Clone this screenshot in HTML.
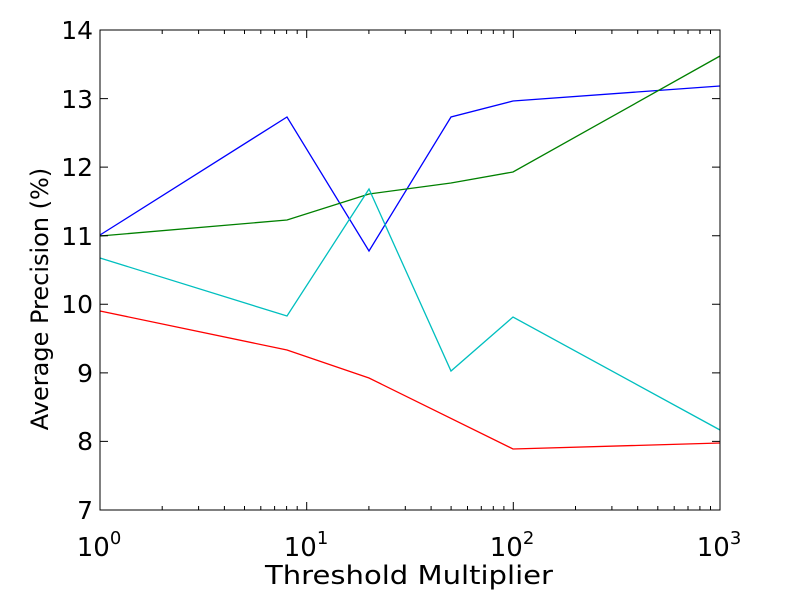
<!DOCTYPE html>
<html><head><meta charset="utf-8"><style>html,body{margin:0;padding:0;background:#fff}</style></head>
<body>
<svg width="800" height="600" xmlns="http://www.w3.org/2000/svg" font-family="DejaVu Sans, Liberation Sans, sans-serif">
<rect width="800" height="600" fill="#fff"/>
<g fill="none" stroke-width="1.3">
<polyline stroke="#0000ff" points="100,235 287,117 369,251 451,117 513,101 720,86"/>
<polyline stroke="#008000" points="100,236 287,220 369,194 451,183 513,172 720,56"/>
<polyline stroke="#00bfbf" points="100,258 287,316 369,189 451,371 513,317 720,430"/>
<polyline stroke="#ff0000" points="100,311 287,350 369,378 513,449 720,443"/>
</g>
<rect x="100" y="30" width="620" height="480" fill="none" stroke="#000" stroke-width="1"/>
<g font-size="25" fill="#000" text-anchor="end">
<text x="93" y="519">7</text><text x="93" y="450">8</text><text x="93" y="382">9</text>
<text x="93" y="313">10</text><text x="93" y="245">11</text><text x="93" y="176">12</text>
<text x="93" y="108">13</text><text x="93" y="39">14</text>
</g>
<g font-size="26" fill="#000" text-anchor="middle">
<text x="99" y="556">10<tspan font-size="18" dy="-12">0</tspan></text>
<text x="306" y="556">10<tspan font-size="18" dy="-12">1</tspan></text>
<text x="512" y="556">10<tspan font-size="18" dy="-12">2</tspan></text>
<text x="719" y="556">10<tspan font-size="18" dy="-12">3</tspan></text>
</g>
<text x="265" y="584" font-size="26" textLength="288" lengthAdjust="spacingAndGlyphs">Threshold Multiplier</text>
<text transform="translate(48,299) rotate(-90)" font-size="24" text-anchor="middle">Average Precision (%)</text>
<g stroke="#000" stroke-width="1">
<path d="M100,510h8M100,441.4h8M100,372.9h8M100,304.3h8M100,235.7h8M100,167.1h8M100,98.6h8M100,30h8
M720,510h-8M720,441.4h-8M720,372.9h-8M720,304.3h-8M720,235.7h-8M720,167.1h-8M720,98.6h-8M720,30h-8"/>
<path d="M100,510v-8M306.7,510v-8M513.3,510v-8M720,510v-8M100,30v8M306.7,30v8M513.3,30v8M720,30v8"/>
<path d="M162.2,510v-4M198.6,510v-4M224.4,510v-4M244.5,510v-4M260.8,510v-4M274.6,510v-4M286.6,510v-4M297.2,510v-4
M368.9,510v-4M405.3,510v-4M431.1,510v-4M451.1,510v-4M467.5,510v-4M481.3,510v-4M493.3,510v-4M503.9,510v-4
M575.5,510v-4M611.9,510v-4M637.7,510v-4M657.8,510v-4M674.2,510v-4M688,510v-4M699.9,510v-4M710.5,510v-4
M162.2,30v4M198.6,30v4M224.4,30v4M244.5,30v4M260.8,30v4M274.6,30v4M286.6,30v4M297.2,30v4
M368.9,30v4M405.3,30v4M431.1,30v4M451.1,30v4M467.5,30v4M481.3,30v4M493.3,30v4M503.9,30v4
M575.5,30v4M611.9,30v4M637.7,30v4M657.8,30v4M674.2,30v4M688,30v4M699.9,30v4M710.5,30v4"/>
</g>
</svg>
</body></html>
